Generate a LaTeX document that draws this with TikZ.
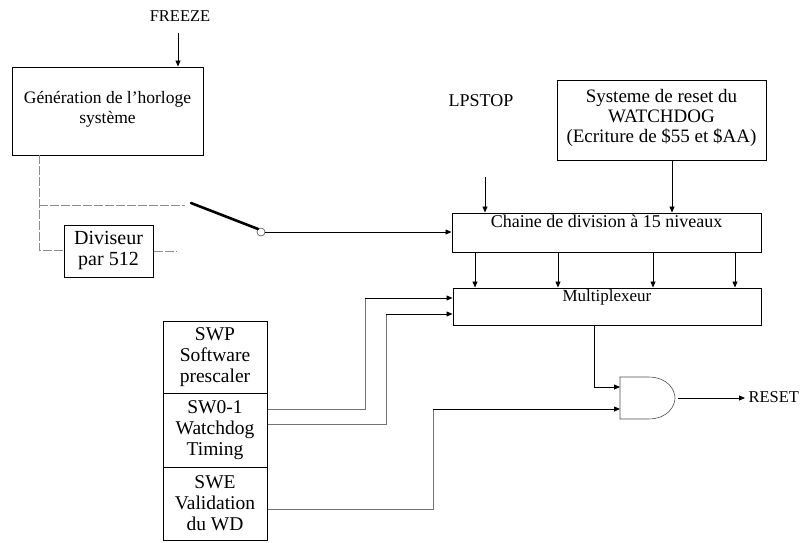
\documentclass[tikz,border=0pt]{standalone}
\usepackage{fontspec}
\setmainfont{Liberation Serif}
\usetikzlibrary{arrows.meta,calc}
\begin{document}
\begin{tikzpicture}[x=1pt,y=-1pt,
  font=\fontsize{18}{20}\selectfont,
  box/.style={draw=black,line width=1pt,inner sep=0pt,align=center},
  arr/.style={-{Triangle[length=6pt,width=5pt]},line width=0.8pt},
  clk/.style={draw=black!45,line width=0.6pt,dash pattern=on 9pt off 2pt},
  sw/.style={draw=black!55,line width=0.6pt},
  stack/.style={box,minimum width=104pt,font=\fontsize{19.5}{21}\selectfont}]
\useasboundingbox (0,0) rectangle (801,542);

% top-left
\node[font=\fontsize{16.5}{20}\selectfont] (freeze) at (180,16) {FREEZE};
\node[box,minimum width=191pt,minimum height=88pt,font=\fontsize{17.5}{20}\selectfont] (gen) at (107.5,111)
  {Génération de l'horloge\\système\\[-12pt]\mbox{}};
\draw[arr] (freeze.south) ++(-2,8) coordinate (fz) -- (gen.north -| fz);

\node[box,minimum width=89pt,minimum height=52pt,font=\fontsize{20}{21}\selectfont] (div) at (108.5,251)
  {Diviseur\\par 512};

% clock lines
\coordinate (g0) at (39,155);
\coordinate (g1) at (39,205);
\coordinate (g2) at (39,250);
\coordinate (s1) at (185,205);
\coordinate (d2) at (177,251);
\draw[clk] (g0) -- (g2) -- (div.west |- g2);
\draw[clk] (g1) -- (s1);
\draw[clk] (div.east |- d2) -- (d2);

% switch
\node[draw=black!70,circle,line width=0.6pt,minimum size=8pt,inner sep=0pt] (pivot) at (261,232) {};
\coordinate (blade) at (191,203);
\draw[line width=2.6pt,line cap=round] (blade) -- (pivot.north west);

% right blocks
\node[box,minimum width=209pt,minimum height=80pt,font=\fontsize{19}{20}\selectfont] (wd) at (661.5,120)
  {Systeme de reset du\\WATCHDOG\\(Ecriture de \$55 et \$AA)\\[-12pt]\mbox{}};
\node (lp) at (481,101) {LPSTOP};
\node[box,minimum width=309pt,minimum height=39pt,
  label={[anchor=north,inner sep=1pt,yshift=-1pt]north:Chaine de division à 15 niveaux}] (chain) at (606.5,232.5) {};
\node[box,minimum width=308pt,minimum height=37pt,
  label={[anchor=north,inner sep=1pt,yshift=-1pt,font=\fontsize{17}{20}\selectfont]north:Multiplexeur}] (mux) at (607,306.5) {};

\draw[arr] (pivot.east) -- (chain.west |- pivot);
\coordinate (lpt) at (485,177);
\draw[arr] (lpt) -- (chain.north -| lpt);
\draw[arr] (wd.south -| 672,0) -- (chain.north -| 672,0);
\foreach \x in {475,558,653,735}
  \draw[arr] (chain.south -| \x,0) -- (mux.north -| \x,0);

% left stack
\node[stack,minimum height=72pt] (swp) at (215,357)
  {SWP\\Software\\prescaler};
\node[stack,minimum height=74pt] (sw01) at (215,430)
  {SW0-1\\Watchdog\\Timing};
\node[stack,minimum height=73pt] (swe) at (215,503.5)
  {SWE\\Validation\\du WD};

% AND gate
\coordinate (gw) at (620,398);
\draw[draw=black!70,line width=0.6pt] (620,377) -- (648,377)
  .. controls (668,377) and (675,390) .. (675,398)
  .. controls (675,406) and (668,419) .. (648,419) -- (620,419) -- cycle;
\node[inner sep=0pt,minimum width=55pt,minimum height=42pt,anchor=west] (gate) at (gw) {};
\node[anchor=west,font=\fontsize{16.5}{20}\selectfont] (reset) at (745,397) {RESET};
\draw[arr] ($(gate.east)+(3,0)$) -- (reset.west |- gate.east);

% connectors to mux and gate
\draw[sw] (sw01.east |- 0,409) -- (365,409) -- (365,298);
\draw[arr] (365,298) -- (mux.west |- 0,298);
\draw[sw] (sw01.east |- 0,424) -- (386,424) -- (386,314);
\draw[arr] (386,314) -- (mux.west |- 0,314);
\draw[sw] (swe.east |- 0,509) -- (433,509) -- (433,409);
\draw[arr] (433,409) -- (gate.west |- 0,409);
\draw[arr] (mux.south -| 594,0) -- (594,387) -- (gate.west |- 0,387);
\end{tikzpicture}
\end{document}
